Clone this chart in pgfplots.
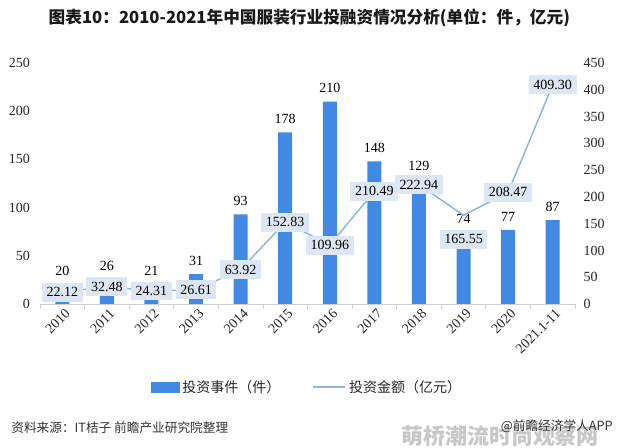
\documentclass[border=0pt]{standalone}
\usepackage{fontspec}
\setmainfont{Liberation Serif}
\newfontfamily\cjk{Noto Sans CJK SC}
\usepackage{pgfplots}
\usepackage{pgfplotstable}
\pgfplotsset{compat=1.18}

\definecolor{barblue}{HTML}{4189E3}
\definecolor{lineblue}{HTML}{8DB4E2}
\definecolor{boxfill}{HTML}{DCE6F4}
\definecolor{axisgray}{HTML}{D0D0D0}

% investment events (count)
\pgfplotstableread{
x events
0 20
1 26
2 21
3 31
4 93
5 178
6 210
7 148
8 129
9 74
10 77
11 87
}\events

% investment amount (100 million yuan); dy = label shift
\pgfplotstableread{
x amount dy
0 22.12 0
1 32.48 0
2 24.31 0
3 26.61 0
4 63.92 0
5 152.83 0
6 109.96 0
7 210.49 0
8 222.94 0
9 165.55 -18
10 208.47 0
11 409.30 0
}\amount

\begin{document}
\begin{tikzpicture}
\pgfplotsset{
  base/.style={
    at={(30pt,108pt)}, anchor=south west, scale only axis,
    width=401.25pt, height=180.75pt,
    xmin=-0.5, xmax=11.5,
    /pgf/number format/assume math mode=true,
    tick label style={font=\fontsize{10.5}{12}\selectfont, text=black!85},
    major tick length=0pt,
  }
}
\begin{axis}[base,
  ymin=0, ymax=250, ytick={0,50,...,250},
  axis x line*=bottom, axis y line*=left,
  x axis line style={draw=axisgray, line width=0.6pt},
  y axis line style={draw=none},
  xtick={0,...,11},
  xticklabels={2010,2011,2012,2013,2014,2015,2016,2017,2018,2019,2020,2021.1-11},
  xticklabel style={rotate=45, anchor=north east, inner sep=1pt, yshift=-2pt},
  minor xtick={-0.5,0.5,...,11.5},
  minor tick length=4pt, tick align=outside,
  minor tick style={draw=axisgray, line width=0.6pt},
  yticklabel style={xshift=-4pt},
]
\addplot[ybar, bar width=10.5pt, fill=barblue, draw=none,
  nodes near coords,
  nodes near coords style={font=\fontsize{10.5}{12}\selectfont, text=black, yshift=3pt}]
  table[x=x, y=events] {\events};
\end{axis}

\begin{axis}[base,
  ymin=0, ymax=450, ytick={0,50,...,450},
  hide x axis,
  axis y line*=right,
  y axis line style={draw=none},
  yticklabel style={xshift=3pt},
  legend style={at={(0.5,-0.345)}, anchor=center, draw=none, fill=none,
    legend columns=2, font=\cjk\fontsize{10.5}{12}\selectfont, text=black!85,
    /tikz/every even column/.append style={column sep=22pt}},
]
\addlegendimage{legend image code/.code={\fill[barblue] (0pt,-3.5pt) rectangle (21pt,3.5pt);}}
\addlegendentry{投资事件（件）}
\addplot[lineblue, line width=1.1pt, mark=none,
  legend image code/.code={\draw[lineblue, line width=1.5pt] (0pt,0pt) -- (24pt,0pt);},
  visualization depends on={\thisrow{dy} \as \dy},
  nodes near coords={\pgfmathprintnumber[fixed, fixed zerofill, precision=2]{\pgfplotspointmeta}},
  nodes near coords align=center,
  every node near coord/.append style={fill=boxfill, font=\fontsize{10.5}{12}\selectfont,
    text=black, inner xsep=3.5pt, inner ysep=3.5pt, yshift=\dy pt}]
  table[x=x, y=amount] {\amount};
\addlegendentry{投资金额（亿元）}
\end{axis}

\node[font=\cjk\bfseries\fontsize{12.5}{15}\selectfont, text=black!90] at (232pt,322.5pt)
  {图表10：2010-2021年中国服装行业投融资情况分析(单位：件，亿元)};
\node[anchor=west, font=\cjk\fontsize{9.5}{11}\selectfont, text=black!80] at (5pt,15.5pt)
  {资料来源：IT桔子 前瞻产业研究院整理};
\node[anchor=south, inner sep=0.5pt, font=\cjk\bfseries\fontsize{16.5}{18}\selectfont, text=black!22] at (375pt,0pt)
  {萌桥潮流时尚观察网};
\node[anchor=east, font=\cjk\fontsize{9.5}{11}\selectfont, text=black!80] at (463pt,16.5pt)
  {@前瞻经济学人APP};

\pgfresetboundingbox
\path (0,0) rectangle (464.25pt,336pt);
\end{tikzpicture}
\end{document}
